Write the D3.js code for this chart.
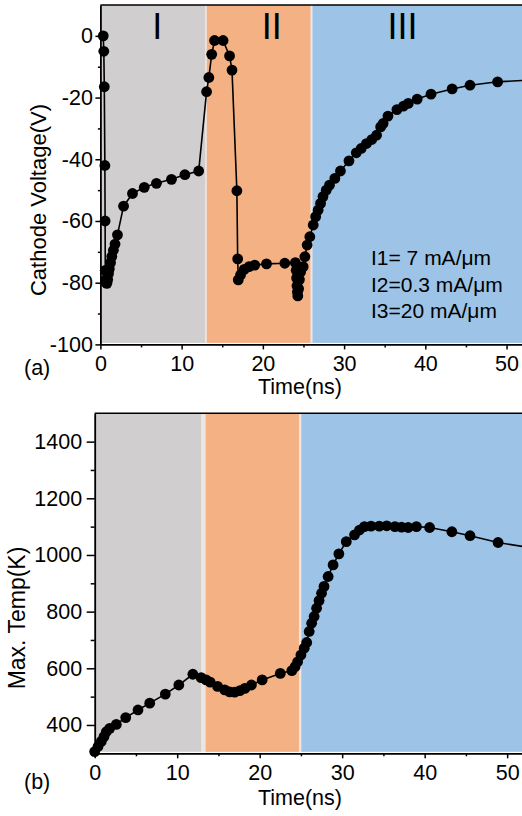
<!DOCTYPE html>
<html><head><meta charset="utf-8">
<script src="https://cdn.jsdelivr.net/npm/d3@7"></script>
<style>
body{margin:0;background:#fff}
svg{display:block}
text{font-family:"Liberation Sans",Arial,Helvetica,sans-serif;fill:#000}
</style>
</head><body>
<svg id="c" width="522" height="816"></svg>
<script>
// ---------- data ----------
const timeA = [0.35,0.42,0.48,0.55,0.58,0.6,0.65,0.7,0.8,0.9,1.0,1.1,1.25,1.4,1.6,1.8,2.1,2.85,3.95,5.4,6.9,8.75,10.4,12.1,
  13.07,13.35,13.7,14.05,15.1,15.9,16.2,16.8,16.9,16.97,17.25,17.7,18.3,19.0,20.45,22.7,24.0,24.1,24.15,24.2,24.25,24.3,24.4,24.5,24.65,
  24.96,25.17,25.45,25.78,26.2,26.5,26.8,27.1,27.4,27.8,28.2,28.86,29.55,30.6,31.5,32.1,32.75,33.4,34.0,34.5,34.8,35.4,36.5,37.3,37.9,39.0,40.7,43.3,45.5,48.9,55];
const voltage = [0,-5,-16.5,-42,-60,-76,-79,-80,-80.2,-79,-77,-75.5,-73.5,-71.5,-69.5,-67.5,-64.5,-55.2,-51.1,-49.1,-47.8,-46.5,-45.0,-43.8,
  -18.1,-13.5,-6.0,-1.5,-1.5,-6.5,-11.1,-50.2,-72.3,-79.1,-77.5,-75.7,-74.8,-74.3,-73.9,-73.7,-73.5,-76,-78.5,-81,-83,-84.3,-82,-79,-76.5,
  -74.8,-71.6,-67.8,-65.1,-61.3,-58.6,-56.5,-54.3,-52.1,-50,-48.4,-46.2,-43.8,-40.5,-37.9,-36.5,-34.9,-33.6,-32.2,-29.5,-28.4,-26.0,-23.9,-22.8,-21.9,-20.5,-18.9,-17.2,-16.0,-14.9,-14.0];

const timeB = [0,0.4,0.8,1.13,1.41,1.82,2.62,3.76,5.25,6.67,8.56,10.2,11.9,12.9,13.5,14.0,14.9,15.76,16.36,16.97,17.6,18.2,19.0,20.3,22.5,23.9,
  24.3,24.6,25.0,25.4,25.7,26.0,26.3,26.6,26.9,27.2,27.5,27.8,28.3,28.9,29.6,30.5,31.5,32.1,32.7,33.5,34.5,35.4,36.4,37.2,38.0,39.0,40.6,43.3,45.5,48.9,55];
const temperature = [306,324,342,359,376,388,402,426,453,477,509,541,579,567,559,551,536,524,517,516,521,529,541,559,582,592,
  606,623,647,671,691,730,759,783,812,839,865,889,924,965,1004,1047,1071,1088,1100,1102,1102,1103,1100,1098,1097,1100,1097,1082,1068,1044,1015];

const xTicks = [0,10,20,30,40,50];
const xMinorTicks = [5,15,25,35,45];
const yTicksA = [-100,-80,-60,-40,-20,0];
const yTickLabelsA = ["-100","-80","-60","-40","-20","0"];
const yMinorTicksA = [-90,-70,-50,-30,-10];
const yTicksB = [400,600,800,1000,1200,1400];
const yMinorTicksB = [500,700,900,1100,1300];

const regionNames = ["I","II","III"];
const regionStartA = [0,13.1,26.1];
const regionEndA = [12.9,25.85,60];
const regionStartB = [0,13.45,25.04];
const regionEndB = [12.92,24.76,60];
const regionLabelT = [7,21.1,37.2];
const annotationLines = ["I1= 7 mA/\u03bcm","I2=0.3 mA/\u03bcm","I3=20 mA/\u03bcm"];

// ---------- style ----------
const regionColors = ["#d0cece","#f4b183","#9dc3e6"];
const svg = d3.select("#c");

function panel(opt){
  const g = svg.append("g");
  const x = opt.x, y = opt.y;
  const [x0,x1] = x.range();
  const [yb,yt] = y.range();
  // soft strip behind region gaps
  g.append("rect").attr("x",x(opt.re[0])).attr("width",x(opt.rs[2])-x(opt.re[0]))
    .attr("y",yt).attr("height",yb-yt-1.5).attr("fill","#eee4e0");
  // regions
  g.selectAll("rect.reg").data(opt.rs).join("rect").attr("class","reg")
    .attr("x",(d,i)=>x(d))
    .attr("width",(d,i)=>Math.max(0,Math.min(x(opt.re[i]),x1+50)-x(d)))
    .attr("y",yt).attr("height",yb-yt-1.5)
    .attr("fill",(d,i)=>regionColors[i]);
  // top frame line
  g.append("line").attr("x1",x0).attr("x2",x1+5).attr("y1",yt).attr("y2",yt)
    .attr("stroke","#000").attr("stroke-width",1.6);
  // axes
  const fs = "21.5px";
  g.append("g").attr("transform",`translate(0,${yb})`)
    .call(d3.axisBottom(x).tickValues(xTicks).tickSize(5).tickSizeOuter(0).tickPadding(6).tickFormat(d3.format("d")));
  g.append("g").attr("transform",`translate(0,${yb})`)
    .call(d3.axisBottom(x).tickValues(xMinorTicks).tickSize(3).tickSizeOuter(0).tickFormat(""))
    .select(".domain").remove();
  g.append("g").attr("transform",`translate(${x0},0)`)
    .call(d3.axisLeft(y).tickValues(opt.yTicks).tickSize(opt.yTickLen).tickSizeOuter(0).tickPadding(opt.yPad)
      .tickFormat((d,i)=>opt.yLabels[i]));
  g.append("g").attr("transform",`translate(${x0},0)`)
    .call(d3.axisLeft(y).tickValues(opt.yMinor).tickSize(opt.yTickLen/2).tickSizeOuter(0).tickFormat(""))
    .select(".domain").remove();
  g.selectAll(".tick line").attr("stroke","#000").attr("stroke-width",1.5);
  g.selectAll(".domain").attr("stroke","#000").attr("stroke-width",1.8);
  g.selectAll(".tick text").style("font-size",fs).style("font-family",'"Liberation Sans",Arial,sans-serif').attr("fill","#000");
  // line + markers
  const pts = opt.tx.map((t,i)=>[t,opt.vy[i]]);
  g.append("path").datum(pts)
    .attr("d",d3.line().x(d=>x(d[0])).y(d=>y(d[1])))
    .attr("fill","none").attr("stroke","#000").attr("stroke-width",1.6);
  g.selectAll("circle").data(pts).join("circle")
    .attr("cx",d=>x(d[0])).attr("cy",d=>y(d[1])).attr("r",5.4).attr("fill","#000");
  // axis titles
  g.append("text").attr("transform",`translate(${opt.yTitleX},${opt.yTitleY}) rotate(-90)`)
    .attr("text-anchor","middle").style("font-size",opt.yTitleFs).text(opt.yTitle);
  g.append("text").attr("x",300).attr("y",yb+opt.xTitleDy).attr("text-anchor","middle")
    .style("font-size","21.5px").text("Time(ns)");
  g.append("text").attr("x",24).attr("y",yb+opt.tagDy).style("font-size","21.5px").text(opt.tag);
  return g;
}

// panel (a)
const xA = d3.scaleLinear().domain([0,51.9]).range([100.4,522]);
const yA = d3.scaleLinear().domain([-100,10]).range([344.4,5]);
const gA = panel({x:xA,y:yA,rs:regionStartA,re:regionEndA,tx:timeA,vy:voltage,
  yTicks:yTicksA,yLabels:yTickLabelsA,yMinor:yMinorTicksA,yTickLen:5,yPad:2.5,
  yTitle:"Cathode Voltage(V)",yTitleX:46,yTitleY:200,yTitleFs:"22px",xTitleDy:50,tag:"(a)",tagDy:31});
gA.selectAll("text.rlab").data(regionNames).join("text").attr("class","rlab")
  .attr("x",(d,i)=>xA(regionLabelT[i])).attr("y",39).attr("text-anchor","middle")
  .style("font-size","36px").text(d=>d);
gA.selectAll("text.ann").data(annotationLines).join("text").attr("class","ann")
  .attr("x",371).attr("y",(d,i)=>265+i*26.5).style("font-size","21px").text(d=>d);

// panel (b)
const xB = d3.scaleLinear().domain([0,51.8]).range([94.7,522]);
const yB = d3.scaleLinear().domain([300,1500]).range([753.3,413.3]);
panel({x:xB,y:yB,rs:regionStartB,re:regionEndB,tx:timeB,vy:temperature,
  yTicks:yTicksB,yLabels:yTicksB.map(String),yMinor:yMinorTicksB,yTickLen:8,yPad:4.5,
  yTitle:"Max. Temp(K)",yTitleX:25,yTitleY:618,yTitleFs:"23px",xTitleDy:52,tag:"(b)",tagDy:36});
</script>
</body></html>
